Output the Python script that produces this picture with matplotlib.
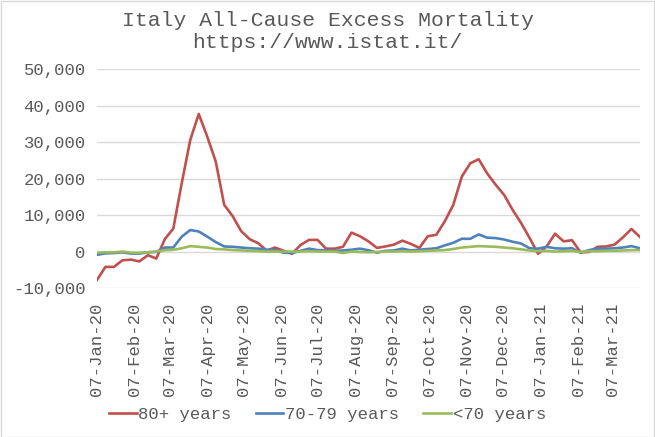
"""Italy all-cause excess mortality by age band, weekly, Jan 2020 - Mar 2021."""

import matplotlib

matplotlib.use("Agg")
import matplotlib.dates as mdates
import matplotlib.pyplot as plt
import numpy as np
import pandas as pd
from matplotlib.ticker import FuncFormatter

weeks = pd.date_range("2020-01-07", periods=65, freq="7D")

age_80_plus = [
    -7700, -4100, -4100, -2300, -2100, -2600, -900, -1800, 3500, 6400,
    18900, 30700, 37800, 31600, 24800, 12900, 9800, 5700, 3500, 2400,
    400, 1200, 300, -500, 1900, 3300, 3300, 900, 900, 1400,
    5300, 4300, 2900, 1100, 1500, 2000, 3100, 2200, 1100, 4300,
    4700, 8400, 12900, 20600, 24300, 25400, 21500, 18400, 15600, 11500,
    7900, 3800, -500, 1500, 5000, 2900, 3200, -100, 0, 1400,
    1500, 2000, 4000, 6300, 4100,
]
age_70_79 = [
    -800, -400, -300, -100, -450, -450, -100, 0, 1200, 1200,
    4200, 6000, 5600, 4200, 2700, 1500, 1400, 1200, 1000, 900,
    600, 500, -200, -300, 300, 900, 500, 450, 300, 400,
    600, 900, 450, -200, 300, 400, 900, 400, 600, 800,
    1000, 1800, 2500, 3600, 3600, 4800, 3900, 3800, 3400, 2800,
    2300, 1000, 900, 1400, 1000, 900, 1000, -200, 500, 900,
    900, 1000, 1200, 1600, 1000,
]
age_under_70 = [
    -200, -100, -100, 100, -200, -200, -100, 100, 450, 600,
    1000, 1600, 1400, 1200, 800, 700, 500, 400, 300, 200,
    100, 100, 100, 100, 100, 200, 100, 100, 100, -300,
    100, 0, -100, 0, 100, 100, 200, 100, 200, 300,
    400, 500, 800, 1200, 1400, 1600, 1500, 1400, 1200, 1000,
    700, 400, 200, 300, 100, 200, 300, 0, 200, 200,
    300, 300, 400, 500, 500,
]

series_names = ["80+ years", "70-79 years", "<70 years"]
month_ticks = [pd.Timestamp(year=2020 + (m // 12), month=m % 12 + 1, day=7) for m in range(15)]

mono = "Liberation Mono"
text_color = "#595959"
colors = ["#C0504D", "#4F81BD", "#9BBB59"]

fig = plt.figure(figsize=(6.55, 4.37), dpi=100)
ax = fig.add_axes((0.148, 0.340, 0.829, 0.501))

for values, name, color in zip([age_80_plus, age_70_79, age_under_70], series_names, colors):
    ax.plot(weeks, values, color=color, lw=1.9, label=name, solid_joinstyle="round")

ax.set_ylim(-10000, 50000)
ax.set_yticks(np.arange(-10000, 50001, 10000))
ax.yaxis.set_major_formatter(FuncFormatter(lambda v, _: f"{v:,.0f}"))
ax.set_xlim(weeks[0], weeks[-1])
ax.set_xticks(month_ticks)
ax.xaxis.set_major_formatter(mdates.DateFormatter("%d-%b-%y"))
ax.grid(axis="y", color="#D9D9D9", lw=1.0)
ax.set_axisbelow(True)
for spine in ax.spines.values():
    spine.set_visible(False)
ax.tick_params(length=0, labelcolor=text_color, labelsize=12.4, pad=8)
ax.tick_params(axis="x", pad=10)
for label in ax.get_xticklabels():
    label.set_rotation(90)
for label in ax.get_xticklabels() + ax.get_yticklabels():
    label.set_fontfamily(mono)

fig.text(0.5, 1 - 21 / 437, "Italy All-Cause Excess Mortality", ha="center", va="center",
         fontsize=15.4, family=mono, color=text_color)
fig.text(0.5, 1 - 42 / 437, "https://www.istat.it/", ha="center", va="center",
         fontsize=15.4, family=mono, color=text_color)

fig.legend(loc="center", bbox_to_anchor=(0.5, 1 - 414 / 437), ncol=3, frameon=False,
           prop={"family": mono, "size": 12.4}, labelcolor=text_color,
           handlelength=1.6, handletextpad=0.1, columnspacing=1.4)

fig.patches.append(plt.Rectangle((0.001, 0.001), 0.997, 0.997, transform=fig.transFigure,
                                 fill=False, edgecolor="#D9D9D9", lw=1.0))

fig.savefig("out.png", dpi=100)
